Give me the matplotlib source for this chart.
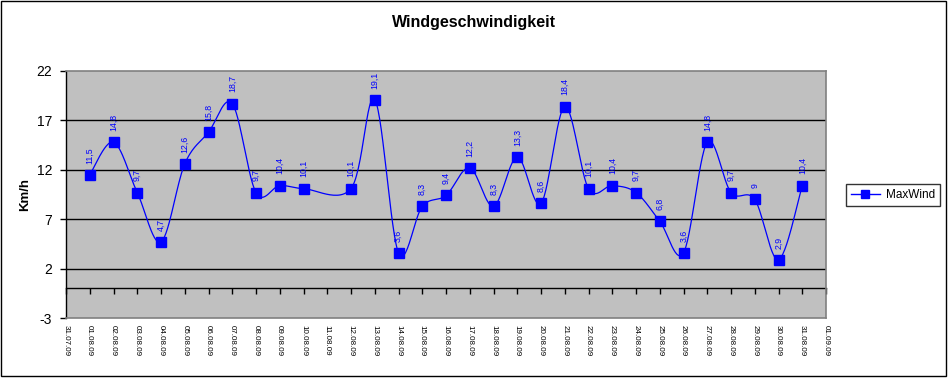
import numpy as np
import pandas as pd
import matplotlib.pyplot as plt
from matplotlib.patches import Rectangle

OUT_PNG = "out.png"

TITLE = "Windgeschwindigkeit"
Y_LABEL = "Km/h"
SERIES = "MaxWind"

# measured days (11.08.09 has no value)
dates = ["01.08.09", "02.08.09", "03.08.09", "04.08.09", "05.08.09", "06.08.09",
         "07.08.09", "08.08.09", "09.08.09", "10.08.09", "12.08.09", "13.08.09",
         "14.08.09", "15.08.09", "16.08.09", "17.08.09", "18.08.09", "19.08.09",
         "20.08.09", "21.08.09", "22.08.09", "23.08.09", "24.08.09", "25.08.09",
         "26.08.09", "27.08.09", "28.08.09", "29.08.09", "30.08.09", "31.08.09"]
max_wind = [11.5, 14.8, 9.7, 4.7, 12.6, 15.8, 18.7, 9.7, 10.4, 10.1, 10.1, 19.1,
            3.6, 8.3, 9.4, 12.2, 8.3, 13.3, 8.6, 18.4, 10.1, 10.4, 9.7, 6.8,
            3.6, 14.8, 9.7, 9.0, 2.9, 10.4]

AXIS_START = "31.07.09"
AXIS_END = "01.09.09"

BLUE = "#0000FF"
GREY = "#C0C0C0"
EDGE = "#808080"

plt.rcParams['font.family'] = ['Liberation Sans', 'DejaVu Sans']
plt.rcParams['axes.unicode_minus'] = False

t0 = pd.to_datetime(AXIS_START, format="%d.%m.%y")
t1 = pd.to_datetime(AXIS_END, format="%d.%m.%y")
x = np.array([(pd.to_datetime(d, format="%d.%m.%y") - t0).days for d in dates], float)
y = np.array(max_wind, float)
tick_dates = pd.date_range(t0, t1, freq="D")
tick_pos = np.arange(len(tick_dates))
tick_labels = [d.strftime("%d.%m.%y") for d in tick_dates]


def excel_smooth(xs, ys, steps=30):
    # Bezier segments with Catmull-Rom style control points (like Excel smoothed lines)
    px = np.concatenate([[xs[0]], xs, [xs[-1]]])
    py = np.concatenate([[ys[0]], ys, [ys[-1]]])
    outx, outy = [], []
    t = np.linspace(0, 1, steps)
    for i in range(1, len(px) - 2):
        p0 = np.array([px[i], py[i]])
        p3 = np.array([px[i + 1], py[i + 1]])
        c1 = p0 + (p3 - np.array([px[i - 1], py[i - 1]])) / 6
        c2 = p3 - (np.array([px[i + 2], py[i + 2]]) - p0) / 6
        b = ((1 - t) ** 3)[:, None] * p0 + (3 * (1 - t) ** 2 * t)[:, None] * c1 \
            + (3 * (1 - t) * t ** 2)[:, None] * c2 + (t ** 3)[:, None] * p3
        outx.extend(b[:, 0])
        outy.extend(b[:, 1])
    return np.array(outx), np.array(outy)


fig = plt.figure(figsize=(9.49, 3.78), dpi=100)
fig.patches.append(Rectangle((1 / 949, 2.5 / 378), 945 / 949, 375 / 378,
                             transform=fig.transFigure, fill=False,
                             edgecolor="black", linewidth=1))

ax = fig.add_axes([66 / 949, 1 - 318 / 378, 760 / 949, 247 / 378])
ax.set_facecolor(GREY)
ax.set_xlim(0, tick_pos[-1])
ax.set_ylim(-3, 22)

for gy in [2, 7, 12, 17]:
    ax.axhline(gy, color="black", linewidth=1, zorder=1)

sx, sy = excel_smooth(x, y)
ax.plot(sx, sy, color=BLUE, linewidth=0.9, zorder=3)
ax.plot(x, y, linestyle="none", marker="s", markersize=7, color=BLUE, zorder=4)

for xi, yi in zip(x, y):
    txt = f"{yi:g}".replace(".", ",")
    ax.annotate(txt, (xi, yi), xytext=(0, 8), textcoords="offset points",
                rotation=90, ha="center", va="bottom", fontsize=6.3, color=BLUE)

ax.set_yticks(range(-3, 23, 5))
ax.tick_params(axis="y", direction="out", length=4, width=1, labelsize=10, pad=6)
ax.set_xticks(tick_pos)
ax.set_xticklabels(tick_labels, rotation=270, fontsize=5.8)
ax.tick_params(axis="x", length=0, pad=5)

for side in ["top", "right", "bottom"]:
    ax.spines[side].set_color(EDGE)
    ax.spines[side].set_linewidth(1.2)
ax.spines["left"].set_color("black")
ax.spines["left"].set_linewidth(1)

# category axis crossing at y=0
sec = ax.secondary_xaxis(3 / 25)
sec.set_xticks(tick_pos)
sec.tick_params(axis="x", direction="out", length=4, width=1, labelbottom=False)
sec.spines["bottom"].set_color("black")
sec.spines["bottom"].set_linewidth(1)

ax.set_ylabel(Y_LABEL, fontsize=9.5, fontweight="bold", labelpad=4)
fig.text(474 / 949, 1 - 22 / 378, TITLE, ha="center", va="center",
         fontsize=11.5, fontweight="bold")

leg = ax.legend([plt.Line2D([], [], color=BLUE, marker="s", markersize=6, linewidth=1)],
                [SERIES], loc="center left", bbox_to_anchor=(846 / 949, 1 - 195 / 378),
                bbox_transform=fig.transFigure, borderaxespad=0, fontsize=8.5,
                frameon=True, fancybox=False, borderpad=0.45, handlelength=2.4,
                handletextpad=0.5)
leg.get_frame().set_edgecolor("black")
leg.get_frame().set_linewidth(1)

fig.savefig(OUT_PNG, dpi=100)
